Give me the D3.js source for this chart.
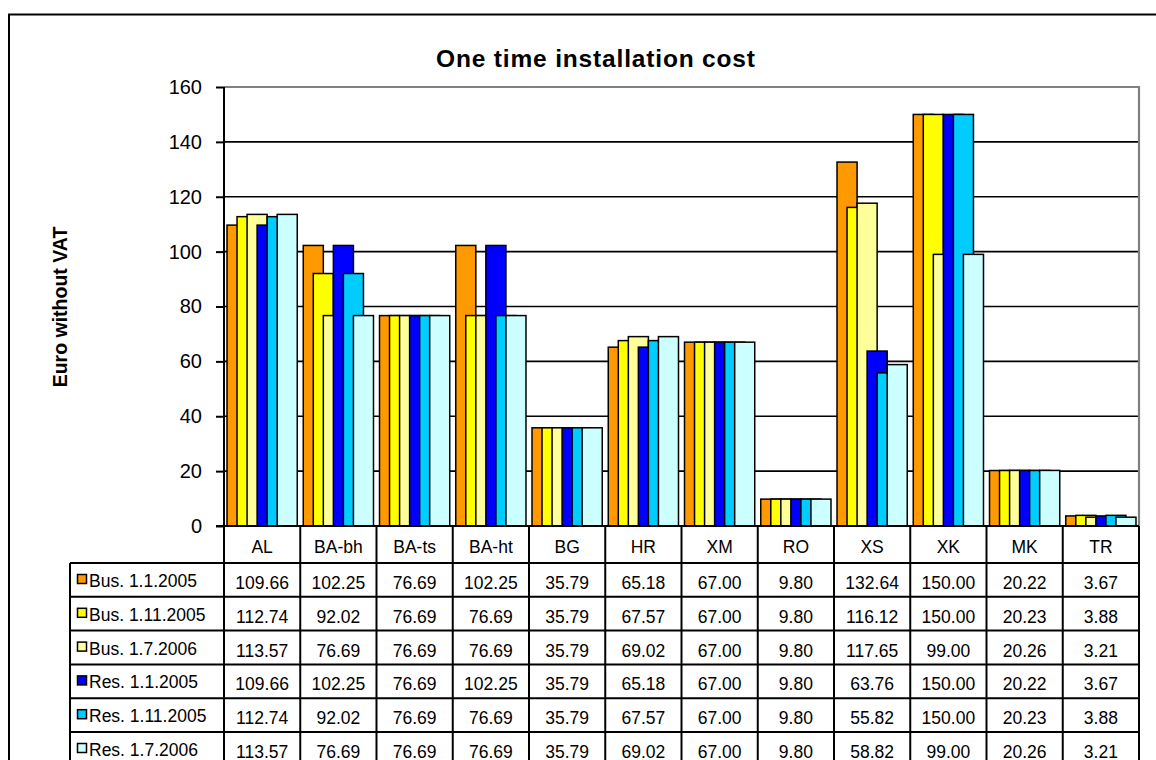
<!DOCTYPE html>
<html>
<head>
<meta charset="utf-8">
<script src="https://cdn.jsdelivr.net/npm/d3@7"></script>
<style>
  html, body { margin: 0; padding: 0; background: #fff; }
  svg { display: block; font-family: "Liberation Sans", Arial, sans-serif; }
</style>
</head>
<body>
<svg id="chart" width="1156" height="760"></svg>
<script>
// Countries along the category axis
const categories = ["AL", "BA-bh", "BA-ts", "BA-ht", "BG", "HR", "XM", "RO", "XS", "XK", "MK", "TR"];

// Series names and colours
const seriesNames = ["Bus. 1.1.2005", "Bus. 1.11.2005", "Bus. 1.7.2006", "Res. 1.1.2005", "Res. 1.11.2005", "Res. 1.7.2006"];
const seriesColors = ["#FF9900", "#FFFF00", "#FFFF99", "#0000FF", "#00CCFF", "#CCFFFF"];

// One time installation cost, Euro without VAT
const bus2005Jan = [109.66, 102.25, 76.69, 102.25, 35.79, 65.18, 67.00, 9.80, 132.64, 150.00, 20.22, 3.67];
const bus2005Nov = [112.74, 92.02, 76.69, 76.69, 35.79, 67.57, 67.00, 9.80, 116.12, 150.00, 20.23, 3.88];
const bus2006Jul = [113.57, 76.69, 76.69, 76.69, 35.79, 69.02, 67.00, 9.80, 117.65, 99.00, 20.26, 3.21];
const res2005Jan = [109.66, 102.25, 76.69, 102.25, 35.79, 65.18, 67.00, 9.80, 63.76, 150.00, 20.22, 3.67];
const res2005Nov = [112.74, 92.02, 76.69, 76.69, 35.79, 67.57, 67.00, 9.80, 55.82, 150.00, 20.23, 3.88];
const res2006Jul = [113.57, 76.69, 76.69, 76.69, 35.79, 69.02, 67.00, 9.80, 58.82, 99.00, 20.26, 3.21];

const yTicks = [0, 20, 40, 60, 80, 100, 120, 140, 160];

const seriesValues = [bus2005Jan, bus2005Nov, bus2006Jul, res2005Jan, res2005Nov, res2006Jul];
const series = seriesNames.map((name, i) => ({ name, color: seriesColors[i], values: seriesValues[i] }));

const svg = d3.select("#chart");

// Plot area
const plot = { left: 224, right: 1139, top: 87, bottom: 526 };
const x = d3.scaleBand().domain(categories).range([plot.left, plot.right]).padding(0);
const y = d3.scaleLinear().domain([0, 160]).range([plot.bottom, plot.top]);

// Outer frame
svg.append("path")
  .attr("d", `M9,760 V14.5 H1160`)
  .attr("fill", "none").attr("stroke", "#000").attr("stroke-width", 2);

// Title
svg.append("text")
  .attr("x", 595.5).attr("y", 67)
  .attr("text-anchor", "middle")
  .attr("font-weight", "bold").attr("font-size", 24.5)
  .attr("textLength", 319).attr("lengthAdjust", "spacing")
  .text("One time installation cost");

// Y axis title
svg.append("text")
  .attr("transform", `translate(67,307) rotate(-90)`)
  .attr("text-anchor", "middle")
  .attr("font-weight", "bold").attr("font-size", 19.5)
  .text("Euro without VAT");

// Gridlines
svg.append("g").selectAll("line")
  .data(yTicks.filter(t => t > 0 && t < 160))
  .join("line")
  .attr("x1", plot.left).attr("x2", plot.right)
  .attr("y1", d => y(d)).attr("y2", d => y(d))
  .attr("stroke", "#000").attr("stroke-width", 1.6);

// Plot border (top and right)
svg.append("path")
  .attr("d", `M${plot.left},${y(160)} H${plot.right} V${plot.bottom}`)
  .attr("fill", "none").attr("stroke", "#808080").attr("stroke-width", 2.2);

// Bars: overlapping by half a bar width, later series on top
const bw = x.bandwidth();
const barW = bw / 3.8;
const step = barW / 2;
const offset = (bw - 3.5 * barW) / 2;

series.forEach((s, si) => {
  svg.append("g").selectAll("rect")
    .data(categories.map((c, ci) => ({ c, v: s.values[ci] })))
    .join("rect")
    .attr("x", d => x(d.c) + offset + si * step)
    .attr("y", d => y(d.v))
    .attr("width", barW)
    .attr("height", d => y(0) - y(d.v))
    .attr("fill", s.color)
    .attr("stroke", "#000").attr("stroke-width", 1.5);
});

// Y axis
const yAxis = d3.axisLeft(y).tickValues(yTicks).tickSize(8).tickPadding(14);
const yg = svg.append("g").attr("transform", `translate(${plot.left},0)`).call(yAxis);
yg.select(".domain").attr("stroke", "#000").attr("stroke-width", 2).attr("d", `M0,${y(160)} V${y(0)}`);
yg.selectAll(".tick line").attr("stroke", "#000").attr("stroke-width", 2);
yg.selectAll(".tick text")
  .attr("font-family", "Liberation Sans, Arial, sans-serif")
  .attr("font-size", 20).attr("fill", "#000");

// Data table below the plot
const headerBottom = 563;
const rowH = 33.8;
const legendLeft = 70;
const table = svg.append("g");

// category headers
table.selectAll("text.cat")
  .data(categories)
  .join("text")
  .attr("class", "cat")
  .attr("x", d => x(d) + bw / 2)
  .attr("y", 553)
  .attr("text-anchor", "middle")
  .attr("font-size", 17.5)
  .text(d => d);

// values
series.forEach((s, si) => {
  const rowTop = headerBottom + si * rowH;
  table.append("g").selectAll("text")
    .data(categories.map((c, ci) => ({ c, v: s.values[ci] })))
    .join("text")
    .attr("x", d => x(d.c) + bw / 2)
    .attr("y", rowTop + 26)
    .attr("text-anchor", "middle")
    .attr("font-size", 17.5)
    .text(d => d.v.toFixed(2));

  // legend key and name
  table.append("rect")
    .attr("x", 77.5).attr("y", rowTop + 11.5)
    .attr("width", 9).attr("height", 9)
    .attr("fill", s.color).attr("stroke", "#000").attr("stroke-width", 1.5);
  table.append("text")
    .attr("x", 89).attr("y", rowTop + 24)
    .attr("font-size", 17.5)
    .text(s.name);
});

// table grid: horizontal lines
const rowLines = d3.range(0, series.length + 1).map(i => headerBottom + i * rowH);
table.selectAll("line.h")
  .data(rowLines)
  .join("line")
  .attr("class", "h")
  .attr("x1", legendLeft).attr("x2", plot.right)
  .attr("y1", d => d).attr("y2", d => d)
  .attr("stroke", "#000").attr("stroke-width", 2);

// vertical lines at category boundaries
const colEdges = categories.map(c => x(c)).concat([plot.right]);
table.selectAll("line.v")
  .data(colEdges)
  .join("line")
  .attr("class", "v")
  .attr("x1", d => d).attr("x2", d => d)
  .attr("y1", plot.bottom).attr("y2", 760)
  .attr("stroke", "#000").attr("stroke-width", 2);

// legend column left edge
table.append("line")
  .attr("x1", legendLeft).attr("x2", legendLeft)
  .attr("y1", headerBottom).attr("y2", 760)
  .attr("stroke", "#000").attr("stroke-width", 2);

// x axis line
svg.append("line")
  .attr("x1", plot.left - 8).attr("x2", plot.right)
  .attr("y1", plot.bottom).attr("y2", plot.bottom)
  .attr("stroke", "#000").attr("stroke-width", 2);
</script>
</body>
</html>
